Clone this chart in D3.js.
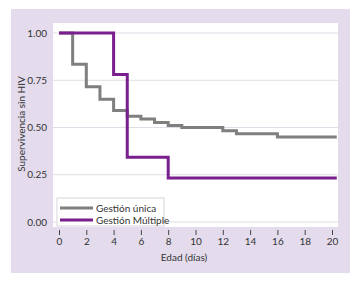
<!DOCTYPE html>
<html>
<head>
<meta charset="utf-8">
<script src="https://cdn.jsdelivr.net/npm/d3@7"></script>
<style>
  body { margin: 0; background: #fff; }
  svg { display: block; font-family: Lato, "Open Sans", sans-serif; }
</style>
</head>
<body>
<div id="chart"></div>
<script>
// Kaplan-Meier steps: [day, survival]
const unicaSteps = [[0, 1.00], [1, 0.835], [2, 0.715], [3, 0.65], [4, 0.59], [5, 0.56],
  [6, 0.545], [7, 0.527], [8, 0.51], [9, 0.50], [12, 0.483], [13, 0.467], [16, 0.45], [20.35, 0.45]];
const multipleSteps = [[0, 1.00], [4, 0.78], [5, 0.343], [8, 0.233], [20.35, 0.233]];
const xTicks = [0, 2, 4, 6, 8, 10, 12, 14, 16, 18, 20];
const yTicks = [0, 0.25, 0.5, 0.75, 1];
const seriesNames = ["Gestión única", "Gestión Múltiple"];
const seriesColors = ["#7f7f7f", "#7a1f8e"];

const W = 358, H = 284;
const svg = d3.select("#chart").append("svg").attr("width", W).attr("height", H);

// lilac panel behind everything
svg.append("rect").attr("x", 11).attr("y", 9).attr("width", 339).attr("height", 264).attr("fill", "#e4dcec");

const x = d3.scaleLinear().domain([0, 20]).range([59, 332]);
const y = d3.scaleLinear().domain([0, 1]).range([222, 33]);

// white plot area
svg.append("rect").attr("x", 53).attr("y", 23).attr("width", 285).attr("height", 204).attr("fill", "#fff");

// gridlines
svg.append("g").selectAll("line").data(yTicks).enter().append("line")
  .attr("x1", 53).attr("x2", 338)
  .attr("y1", d => y(d)).attr("y2", d => y(d))
  .attr("stroke", "#e2dce6").attr("stroke-width", 1);

// y axis labels
const yAxis = svg.append("g").attr("transform", "translate(50,0)")
  .call(d3.axisLeft(y).tickValues(yTicks).tickFormat(d3.format(".2f")).tickSize(0));
yAxis.select(".domain").remove();
yAxis.selectAll("text").attr("font-size", 10).attr("fill", "#333").attr("font-family", "Lato, sans-serif");

// x axis
const xAxis = svg.append("g").attr("transform", "translate(0,230)")
  .call(d3.axisBottom(x).tickValues(xTicks).tickSize(5).tickPadding(3));
xAxis.select(".domain").remove();
xAxis.selectAll("line").attr("stroke", "#444");
xAxis.selectAll("text").attr("font-size", 10).attr("fill", "#333").attr("font-family", "Lato, sans-serif");

// axis titles
svg.append("text")
  .attr("x", 184).attr("y", 261)
  .attr("text-anchor", "middle")
  .attr("font-size", 10).attr("fill", "#333")
  .text("Edad (días)");

svg.append("text")
  .attr("transform", "translate(25,124) rotate(-90)")
  .attr("text-anchor", "middle")
  .attr("font-size", 10).attr("fill", "#333")
  .text("Supervivencia sin HIV");

// survival curves
const line = d3.line().curve(d3.curveStepAfter).x(d => x(d[0])).y(d => y(d[1]));
[unicaSteps, multipleSteps].forEach((s, i) => {
  svg.append("path").datum(s)
    .attr("d", line)
    .attr("fill", "none")
    .attr("stroke", seriesColors[i])
    .attr("stroke-width", 3);
});

// legend
const lg = svg.append("g").attr("transform", "translate(57,198)");
lg.append("rect").attr("width", 107).attr("height", 28)
  .attr("fill", "#fff").attr("stroke", "#cfc8d6").attr("stroke-width", 0.8);
seriesNames.forEach((n, i) => {
  lg.append("line").attr("x1", 3).attr("x2", 36)
    .attr("y1", 10 + i * 12).attr("y2", 10 + i * 12)
    .attr("stroke", seriesColors[i]).attr("stroke-width", 3);
  lg.append("text").attr("x", 39).attr("y", 10 + i * 12).attr("dy", "0.35em")
    .attr("font-size", 10).attr("fill", "#333").text(n);
});
</script>
</body>
</html>
